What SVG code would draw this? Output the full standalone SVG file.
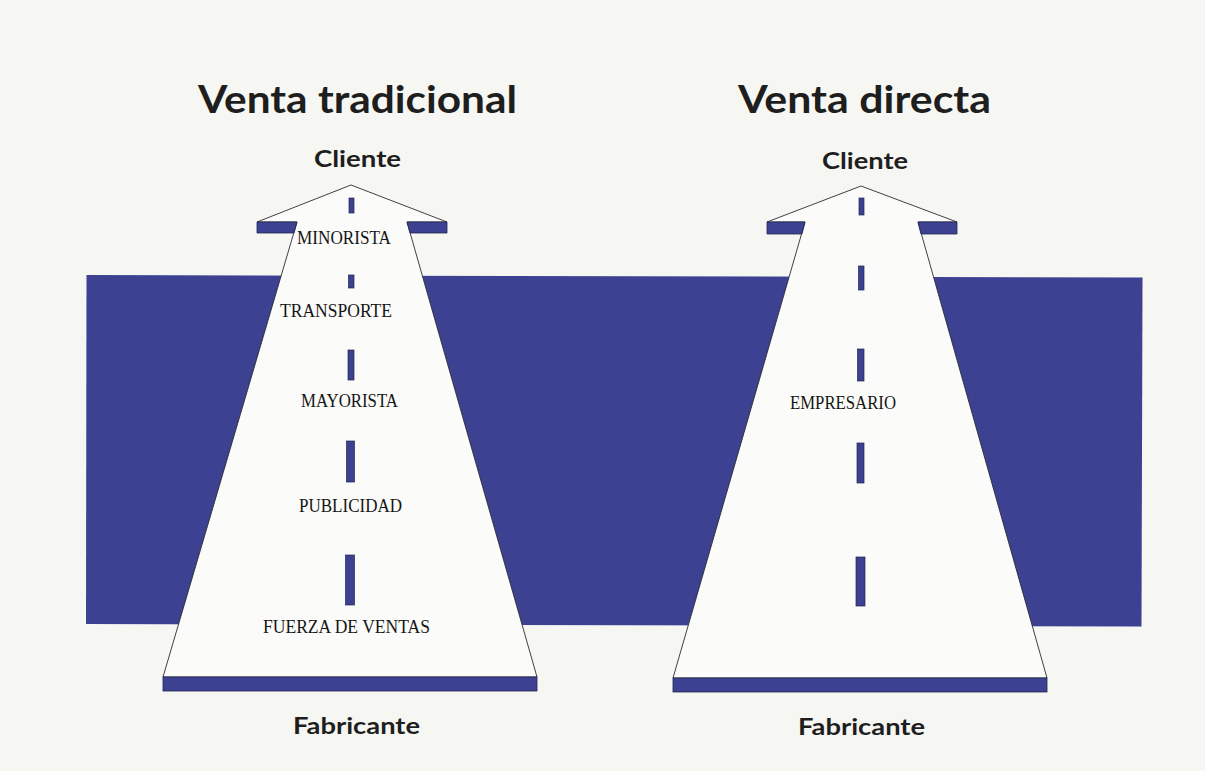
<svg xmlns="http://www.w3.org/2000/svg" width="1205" height="771" viewBox="0 0 1205 771">
<style>
.bg{fill:#f6f6f3}
.band{fill:#3c4191}
.road{fill:#fbfbf9;stroke:#2b2b33;stroke-width:0.9;stroke-linejoin:miter}
.bar{fill:#3c4191;stroke:#23264f;stroke-width:0.8}
.dash{fill:#3c4191;stroke:#23264f;stroke-width:0.7}
.title{font-family:Lato,"Liberation Sans",sans-serif;font-weight:700;fill:#1e1e1e}
.end{font-family:Lato,"Liberation Sans",sans-serif;font-weight:700;fill:#1e1e1e;font-size:23px}
.lbl{font-family:"Liberation Serif","DejaVu Serif",serif;fill:#151515;font-size:19px}
</style>
<rect class="bg" x="0" y="0" width="1205" height="771"/>
<polygon id="band" class="band" points="86.5,275 1142.5,277.5 1141.5,626.5 86,624"/>

<g id="titles">
<text class="title" x="198" y="113" font-size="38" textLength="319" lengthAdjust="spacingAndGlyphs">Venta tradicional</text>
<text class="title" x="738" y="113" font-size="38" textLength="253" lengthAdjust="spacingAndGlyphs">Venta directa</text>
</g>

<g id="road-traditional">
<polygon class="road" points="351,185 447,222 407,222 537,677 163,677 297,222 257,222"/>
<polygon class="bar" points="257,222 297,222 294,233 257,233"/>
<polygon class="bar" points="407,222 447,222 447,233 410,233"/>
<rect class="bar" x="163" y="677" width="374" height="14"/>
<rect class="dash" x="349" y="198" width="5" height="15"/>
<rect class="dash" x="348.5" y="275" width="5.5" height="13"/>
<rect class="dash" x="348" y="350" width="6" height="30"/>
<rect class="dash" x="346.5" y="441" width="8" height="41"/>
<rect class="dash" x="345.5" y="555" width="9" height="50"/>
</g>

<g id="road-direct">
<polygon class="road" points="861,186 957,222 918,222 1047,678 673,678 805,222 767,222"/>
<polygon class="bar" points="767,222 805,222 802,234 767,234"/>
<polygon class="bar" points="918,222 957,222 957,234 921,234"/>
<rect class="bar" x="673" y="678" width="374" height="14"/>
<rect class="dash" x="859" y="198" width="5" height="17"/>
<rect class="dash" x="858.5" y="266" width="5.5" height="24"/>
<rect class="dash" x="857.5" y="349" width="6.5" height="32"/>
<rect class="dash" x="857" y="443" width="7" height="40"/>
<rect class="dash" x="856" y="557" width="9" height="49"/>
</g>

<g id="node-cliente-1"><text class="end" x="314" y="167" textLength="87" lengthAdjust="spacingAndGlyphs">Cliente</text></g>
<g id="node-minorista"><text class="lbl" x="297" y="244" textLength="94" lengthAdjust="spacingAndGlyphs">MINORISTA</text></g>
<g id="node-transporte"><text class="lbl" x="280" y="317" textLength="112" lengthAdjust="spacingAndGlyphs">TRANSPORTE</text></g>
<g id="node-mayorista"><text class="lbl" x="301" y="407" textLength="97" lengthAdjust="spacingAndGlyphs">MAYORISTA</text></g>
<g id="node-publicidad"><text class="lbl" x="299" y="512" textLength="103" lengthAdjust="spacingAndGlyphs">PUBLICIDAD</text></g>
<g id="node-fuerza"><text class="lbl" x="263" y="633" textLength="167" lengthAdjust="spacingAndGlyphs">FUERZA DE VENTAS</text></g>
<g id="node-fabricante-1"><text class="end" x="293" y="734" textLength="127" lengthAdjust="spacingAndGlyphs">Fabricante</text></g>

<g id="node-cliente-2"><text class="end" x="822" y="169" textLength="86" lengthAdjust="spacingAndGlyphs">Cliente</text></g>
<g id="node-empresario"><text class="lbl" x="790" y="409" textLength="106" lengthAdjust="spacingAndGlyphs">EMPRESARIO</text></g>
<g id="node-fabricante-2"><text class="end" x="798" y="735" textLength="127" lengthAdjust="spacingAndGlyphs">Fabricante</text></g>

<g id="connectors"></g>
</svg>
